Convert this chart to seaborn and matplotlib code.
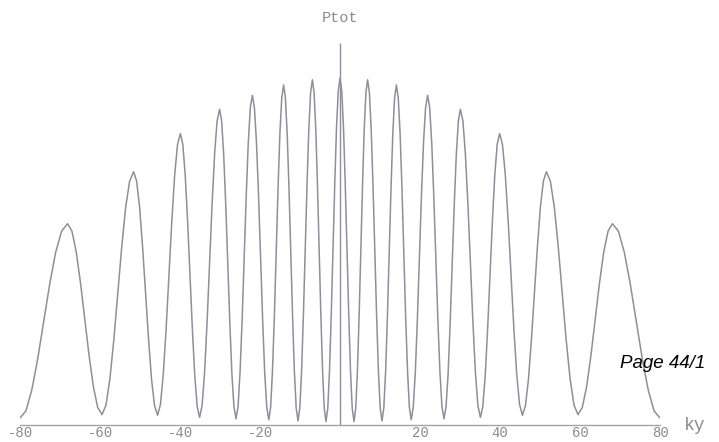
import matplotlib
matplotlib.use("Agg")
import matplotlib.pyplot as plt
import seaborn as sns
import pandas as pd

# curve, ky from -80 to 80, P in units of the central peak
ky = [
    -80.0, -78.51, -77.03, -75.54, -74.05, -72.56, -71.08, -69.59,
    -68.1, -67.03, -65.95, -64.88, -63.8, -62.73, -61.65, -60.58,
    -59.5, -58.51, -57.53, -56.54, -55.55, -54.56, -53.58, -52.59,
    -51.6, -50.85, -50.1, -49.35, -48.6, -47.85, -47.1, -46.35,
    -45.6, -44.89, -44.18, -43.46, -42.75, -42.04, -41.33, -40.61,
    -39.9, -39.3, -38.7, -38.1, -37.5, -36.9, -36.3, -35.7,
    -35.1, -34.48, -33.85, -33.23, -32.6, -31.98, -31.35, -30.73,
    -30.1, -29.59, -29.08, -28.56, -28.05, -27.54, -27.03, -26.51,
    -26.0, -25.49, -24.98, -24.46, -23.95, -23.44, -22.93, -22.41,
    -21.9, -21.39, -20.88, -20.36, -19.85, -19.34, -18.83, -18.31,
    -17.8, -17.34, -16.88, -16.41, -15.95, -15.49, -15.03, -14.56,
    -14.1, -13.65, -13.2, -12.75, -12.3, -11.85, -11.4, -10.95,
    -10.5, -10.05, -9.6, -9.15, -8.7, -8.25, -7.8, -7.35,
    -6.9, -6.48, -6.05, -5.63, -5.2, -4.78, -4.35, -3.93,
    -3.5, -3.06, -2.63, -2.19, -1.75, -1.31, -0.88, -0.44,
    0.0,
    0.44, 0.88, 1.31, 1.75, 2.19, 2.63, 3.06, 3.5,
    3.93, 4.35, 4.78, 5.2, 5.63, 6.05, 6.48, 6.9,
    7.35, 7.8, 8.25, 8.7, 9.15, 9.6, 10.05, 10.5,
    10.95, 11.4, 11.85, 12.3, 12.75, 13.2, 13.65, 14.1,
    14.56, 15.03, 15.49, 15.95, 16.41, 16.88, 17.34, 17.8,
    18.31, 18.83, 19.34, 19.85, 20.36, 20.88, 21.39, 21.9,
    22.41, 22.93, 23.44, 23.95, 24.46, 24.98, 25.49, 26.0,
    26.51, 27.03, 27.54, 28.05, 28.56, 29.08, 29.59, 30.1,
    30.73, 31.35, 31.98, 32.6, 33.23, 33.85, 34.48, 35.1,
    35.7, 36.3, 36.9, 37.5, 38.1, 38.7, 39.3, 39.9,
    40.61, 41.33, 42.04, 42.75, 43.46, 44.18, 44.89, 45.6,
    46.35, 47.1, 47.85, 48.6, 49.35, 50.1, 50.85, 51.6,
    52.59, 53.58, 54.56, 55.55, 56.54, 57.53, 58.51, 59.5,
    60.58, 61.65, 62.73, 63.8, 64.88, 65.95, 67.03, 68.1,
    69.59, 71.08, 72.56, 74.05, 75.54, 77.03, 78.51, 80.0,
]
p_tot = [
    0.02, 0.041, 0.102, 0.193, 0.30, 0.407, 0.498, 0.559,
    0.58, 0.559, 0.500, 0.410, 0.305, 0.200, 0.110, 0.051,
    0.03, 0.057, 0.132, 0.246, 0.38, 0.514, 0.628, 0.703,
    0.73, 0.703, 0.628, 0.513, 0.379, 0.245, 0.130, 0.055,
    0.028, 0.059, 0.147, 0.279, 0.434, 0.589, 0.721, 0.809,
    0.84, 0.809, 0.721, 0.587, 0.431, 0.275, 0.141, 0.053,
    0.022, 0.056, 0.152, 0.296, 0.466, 0.636, 0.780, 0.876,
    0.91, 0.876, 0.780, 0.634, 0.464, 0.294, 0.148, 0.052,
    0.018, 0.053, 0.154, 0.306, 0.484, 0.662, 0.814, 0.915,
    0.95, 0.914, 0.813, 0.661, 0.483, 0.304, 0.152, 0.051,
    0.015, 0.052, 0.156, 0.313, 0.498, 0.682, 0.839, 0.943,
    0.98, 0.943, 0.839, 0.681, 0.496, 0.311, 0.153, 0.049,
    0.012, 0.049, 0.156, 0.316, 0.504, 0.691, 0.851, 0.958,
    0.995, 0.958, 0.851, 0.691, 0.503, 0.314, 0.154, 0.047,
    0.01, 0.048, 0.155, 0.316, 0.505, 0.694, 0.855, 0.962,
    1.0,
    0.962, 0.855, 0.694, 0.505, 0.316, 0.155, 0.048, 0.01,
    0.047, 0.154, 0.314, 0.503, 0.691, 0.851, 0.958, 0.995,
    0.958, 0.851, 0.691, 0.504, 0.316, 0.156, 0.049, 0.012,
    0.049, 0.153, 0.311, 0.496, 0.681, 0.839, 0.943, 0.98,
    0.943, 0.839, 0.682, 0.498, 0.313, 0.156, 0.052, 0.015,
    0.051, 0.152, 0.304, 0.483, 0.661, 0.813, 0.914, 0.95,
    0.915, 0.814, 0.662, 0.484, 0.306, 0.154, 0.053, 0.018,
    0.052, 0.148, 0.294, 0.464, 0.634, 0.780, 0.876, 0.91,
    0.876, 0.780, 0.636, 0.466, 0.296, 0.152, 0.056, 0.022,
    0.053, 0.141, 0.275, 0.431, 0.587, 0.721, 0.809, 0.84,
    0.809, 0.721, 0.589, 0.434, 0.279, 0.147, 0.059, 0.028,
    0.055, 0.130, 0.245, 0.379, 0.513, 0.628, 0.703, 0.73,
    0.703, 0.628, 0.514, 0.38, 0.246, 0.132, 0.057, 0.03,
    0.051, 0.110, 0.200, 0.305, 0.410, 0.500, 0.559, 0.58,
    0.559, 0.498, 0.407, 0.30, 0.193, 0.102, 0.041, 0.02,
]

tick_values = [-80, -60, -40, -20, 20, 40, 60, 80]
tick_labels = ["-80", "-60", "-40", "-20", "20", "40", "60", "80"]

# marker line for P_tot at the centre
ptot_ky = 0.0
ptot_top = 1.10

sns.set_theme(style="white")

fig = plt.figure(figsize=(7.19, 4.42), dpi=100)
ax = fig.add_axes([20 / 719, 17 / 442, 640 / 719, 416.4 / 442])

df = pd.DataFrame({"ky": ky, "P": p_tot})
sns.lineplot(data=df, x="ky", y="P", ax=ax, color="#8e8e9c", lw=1.1, estimator=None)
ax.vlines(ptot_ky, 0, ptot_top, color="#8e8e9c", lw=1.0)

ax.set_xlim(-80, 80)
ax.set_ylim(0, 1.2)
sns.despine(ax=ax, left=True)
ax.spines["bottom"].set_color("#a4a4a4")
ax.spines["bottom"].set_linewidth(1.0)
ax.set_yticks([])
ax.set_xticks(tick_values, tick_labels, fontfamily="Liberation Mono", fontsize=10, color="#8a8a8a")
ax.tick_params(axis="x", direction="in", length=3, pad=1, color="#a4a4a4")
ax.set_xlabel("")
ax.set_ylabel("")

ax.text(ptot_ky, 1.173, "Ptot", ha="center", va="center", fontfamily="Liberation Mono",
        fontsize=11, color="#8a8a8a", clip_on=False)
fig.text(695 / 719, 1 - 425 / 442, "ky", ha="center", va="center",
         fontfamily="Liberation Mono", fontsize=13, color="#8a8a8a")
fig.text(620 / 719, 1 - 363 / 442, "Page 44/1", ha="left", va="center",
         fontfamily="Liberation Sans", fontstyle="italic", fontsize=13.5, color="black")

fig.savefig("out.png", dpi=100)
